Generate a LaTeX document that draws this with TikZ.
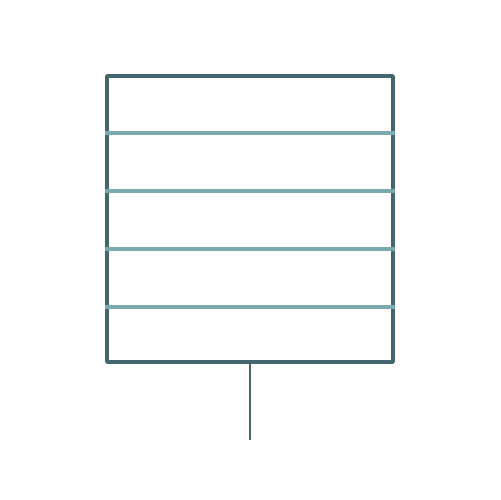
\documentclass[tikz,border=0pt]{standalone}
\definecolor{frame}{HTML}{44666E}
\definecolor{shelf}{HTML}{7CA9AD}
\begin{document}
\begin{tikzpicture}[x=0.02cm,y=-0.02cm,
  box/.style={draw=frame,line width=2.2pt,line join=round,minimum width=5.72cm,minimum height=5.72cm,inner sep=0pt},
  divider/.style={draw=shelf,line width=1.9pt},
  stem/.style={draw=frame,line width=1.7pt}
  ]
    \useasboundingbox (0,0) rectangle (500,500);
    \node[box] (rack) at (250,219) {};
    \foreach \y in {133,191,249,307}
        \draw[divider] (rack.west |- 0,\y) -- (rack.east |- 0,\y);
    \coordinate (foot) at (250,440);
    \draw[stem] (rack.south) -- (foot);
\end{tikzpicture}
\end{document}
